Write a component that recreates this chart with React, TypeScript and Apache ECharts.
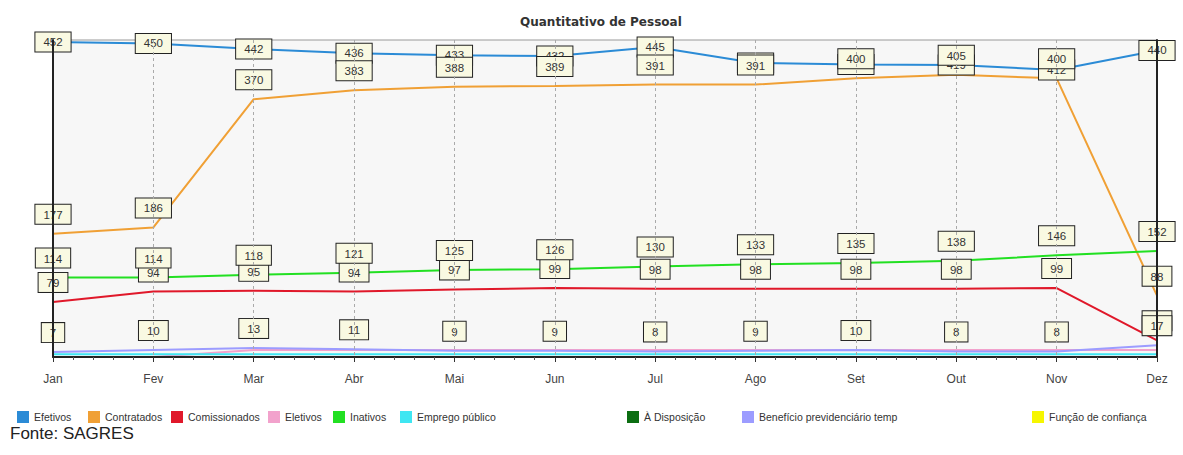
import React, { useEffect, useRef } from "react";
import * as echarts from "echarts";

const months = ["Jan", "Fev", "Mar", "Abr", "Mai", "Jun", "Jul", "Ago", "Set", "Out", "Nov", "Dez"];
const efetivos = [452, 450, 442, 436, 433, 432, 445, 422, 420, 419, 412, 440];
const contratados = [177, 186, 370, 383, 388, 389, 391, 391, 400, 405, 400, 88];
const comissionados = [79, 94, 95, 94, 97, 99, 98, 98, 98, 98, 99, 24];
const eletivos = [0, 0, 10, 10, 10, 10, 10, 10, 10, 10, 10, 10];
const inativos = [114, 114, 118, 121, 125, 126, 130, 133, 135, 138, 146, 152];
const empregoPublico = [4, 4, 4, 4, 4, 4, 4, 4, 4, 4, 4, 4];
const aDisposicao = [0, 0, 0, 0, 0, 0, 0, 0, 0, 0, 0, 0];
const beneficio = [7, 10, 13, 11, 9, 9, 8, 9, 10, 8, 8, 17];
const funcaoConfianca = [0, 0, 0, 0, 0, 0, 0, 0, 0, 0, 0, 0];

const seriesDefs = [
  { name: "Efetivos", data: efetivos, color: "#2b8bd6", label: "inside", lx: 12 },
  { name: "Contratados", data: contratados, color: "#f0a035", label: "top", lx: 83 },
  { name: "Comissionados", data: comissionados, color: "#e0182a", label: "top", lx: 166 },
  { name: "Eletivos", data: eletivos, color: "#f2a2cc", label: "", lx: 263 },
  { name: "Inativos", data: inativos, color: "#22e022", label: "top", lx: 328 },
  { name: "Emprego público", data: empregoPublico, color: "#3fe6f2", label: "", lx: 395 },
  { name: "À Disposição", data: aDisposicao, color: "#0c6e12", label: "", lx: 622 },
  { name: "Benefício previdenciário temp", data: beneficio, color: "#9c9cff", label: "top", lx: 737 },
  { name: "Função de confiança", data: funcaoConfianca, color: "#f6f600", label: "", lx: 1027 },
];

const FONT = "Arial, 'Liberation Sans', sans-serif";

export default function App() {
  const ref = useRef<HTMLDivElement>(null);
  useEffect(() => {
    if (!ref.current) return;
    const chart = echarts.init(ref.current, undefined, { renderer: "svg" });
    const labelBox = {
      fontSize: 11.5,
      fontFamily: FONT,
      color: "#333",
      backgroundColor: "#f9f9e2",
      borderColor: "#222",
      borderWidth: 1,
      padding: [4, 8, 3, 8],
    };
    chart.setOption({
      animation: false,
      title: {
        text: "Quantitativo de Pessoal",
        left: 515,
        top: 11,
        textStyle: { fontSize: 12, fontWeight: "bold", color: "#333", fontFamily: "'DejaVu Sans', sans-serif" },
      },
      legend: seriesDefs.map((s) => ({
        data: [s.name],
        left: s.lx,
        top: 406,
        itemWidth: 12,
        itemHeight: 12,
        icon: "rect",
        selectedMode: false,
        textStyle: { fontSize: 10.5, color: "#333", fontFamily: FONT },
      })),
      grid: {
        left: 53,
        right: 26,
        top: 40,
        bottom: 98,
        show: true,
        backgroundColor: "#f7f7f7",
        borderColor: "#999",
        borderWidth: 1,
      },
      xAxis: [
        {
          type: "category",
          data: months,
          boundaryGap: false,
          z: 5,
          axisLine: { lineStyle: { color: "#222", width: 2 } },
          axisTick: { show: false },
          axisLabel: { color: "#444", fontSize: 12, fontFamily: FONT, margin: 16 },
          splitLine: { show: true, lineStyle: { color: "#aaa", type: [3, 3], width: 1 } },
        },
        {
          type: "value",
          min: 0,
          max: 11,
          interval: 1,
          position: "bottom",
          z: 5,
          axisLine: { show: false },
          axisLabel: { show: false },
          splitLine: { show: false },
          axisTick: { show: true, length: 5, lineStyle: { color: "#333" } },
          minorTick: { show: true, splitNumber: 5, length: 3, lineStyle: { color: "#555" } },
        },
      ],
      yAxis: [
        {
          type: "value",
          min: 0,
          max: 455,
          position: "left",
          z: 5,
          axisLine: { show: true, lineStyle: { color: "#222", width: 2 } },
          axisLabel: { show: false },
          axisTick: { show: false },
          splitLine: { show: false },
        },
        {
          type: "value",
          min: 0,
          max: 455,
          position: "right",
          z: 5,
          axisLine: { show: true, lineStyle: { color: "#222", width: 2 } },
          axisLabel: { show: false },
          axisTick: { show: false },
          splitLine: { show: false },
        },
      ],
      series: seriesDefs.map((s) => ({
        name: s.name,
        type: "line",
        data: s.data,
        xAxisIndex: 0,
        yAxisIndex: 0,
        symbol: "circle",
        symbolSize: 0,
        showSymbol: true,
        lineStyle: { color: s.color, width: 2 },
        itemStyle: { color: s.color },
        label: s.label
          ? { show: true, position: s.label, distance: 10, ...labelBox }
          : { show: false },
        emphasis: { disabled: true },
      })),
      graphic: [
        {
          type: "text",
          left: 10,
          top: 425,
          style: { text: "Fonte: SAGRES", fontSize: 17, fill: "#222", fontFamily: FONT },
        },
      ],
    });
    return () => chart.dispose();
  }, []);
  return (
    <div
      ref={ref}
      style={{ position: "fixed", left: 0, top: 0, width: 1183, height: 455, background: "#fff" }}
    />
  );
}
